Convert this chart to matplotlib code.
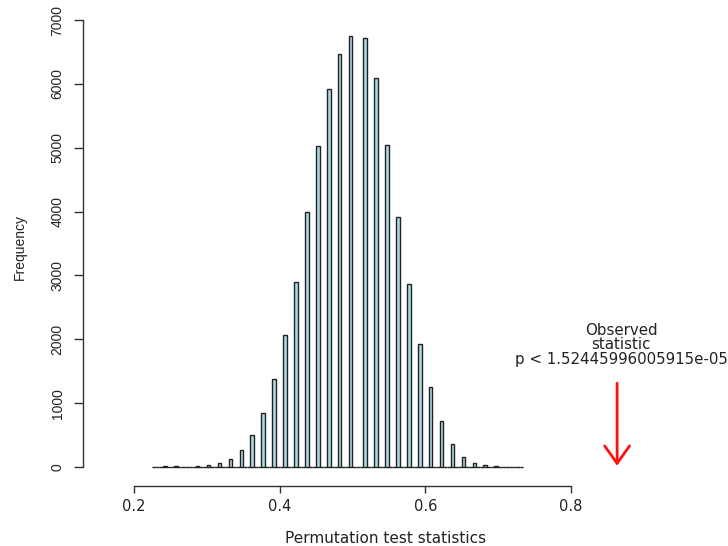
import matplotlib
matplotlib.use("Agg")
import matplotlib.pyplot as plt
import numpy as np

plt.rcParams['font.family'] = ['DejaVu Sans']

# histogram bins (width 0.005), centres of the non-empty ones and their counts
bin_lo, bin_hi, bin_w = 0.225, 0.735, 0.005
centres = [0.2425, 0.2575, 0.2875, 0.3025, 0.3175, 0.3325, 0.3475, 0.3625,
           0.3775, 0.3925, 0.4075, 0.4225, 0.4375, 0.4525, 0.4675, 0.4825,
           0.4975, 0.5175, 0.5325, 0.5475, 0.5625, 0.5775, 0.5925, 0.6075,
           0.6225, 0.6375, 0.6525, 0.6675, 0.6825, 0.6975]
counts = [12, 12, 8, 30, 55, 120, 260, 500,
          845, 1380, 2070, 2895, 4000, 5030, 5920, 6465,
          6757, 6721, 6095, 5045, 3910, 2870, 1930, 1250,
          717, 363, 160, 66, 24, 8]

observed = 0.8636
p_text = "Observed\nstatistic\np < 1.52445996005915e-05"

xticks = [0.2, 0.4, 0.6, 0.8]
yticks = [0, 1000, 2000, 3000, 4000, 5000, 6000, 7000]

narrow = ['Liberation Sans Narrow', 'Liberation Sans']

# every bin gets drawn, empty ones show up as a flat line at zero
edges = np.arange(bin_lo, bin_hi + bin_w / 2, bin_w)
mids = edges[:-1] + bin_w / 2
heights = np.zeros(len(mids))
for c, n in zip(centres, counts):
    heights[np.argmin(np.abs(mids - c))] = n

fig = plt.figure(figsize=(7.28, 5.46), dpi=100)
ax = fig.add_axes([83.3 / 728, 60.5 / 546, 641.7 / 728, 477.5 / 546])

ax.bar(mids, heights, width=bin_w, color='#add8e6', edgecolor='#222222',
       linewidth=1.0)

ax.set_xlim(0.1304, 1.0118)
ax.set_ylim(-290, 7188)

for s in ['top', 'right']:
    ax.spines[s].set_visible(False)
ax.spines['left'].set_bounds(0, 7000)
ax.spines['bottom'].set_bounds(0.2, 0.8)
for s in ['left', 'bottom']:
    ax.spines[s].set_color('#333333')
    ax.spines[s].set_linewidth(1.0)

ax.set_xticks(xticks)
ax.set_xticklabels([str(t) for t in xticks])
ax.set_yticks(yticks)
ax.set_yticklabels([str(t) for t in yticks], rotation=90, va='center',
                   family=narrow)
ax.tick_params(axis='x', length=5, width=1, color='#333333', pad=5,
               labelsize=10.5, labelcolor='#222222')
ax.tick_params(axis='y', length=6.5, width=1, color='#333333', pad=7,
               labelsize=10, labelcolor='#222222')

ax.set_xlabel("Permutation test statistics", fontsize=11, color='#222222')
ax.xaxis.set_label_coords((386 - 83.3) / 641.7, -0.095)
ax.set_ylabel("Frequency", fontsize=10, color='#222222', labelpad=17,
              family=narrow)

# arrow pointing at the observed value
ax.annotate("", xy=(observed, -25), xytext=(observed, 1355),
            arrowprops=dict(arrowstyle='->, head_length=0.45, head_width=0.32',
                            color='#ff1010', lw=2, mutation_scale=28))
ax.text(observed + 0.0055, 1570, p_text, ha='center', va='bottom',
        fontsize=10.8, color='#222222', linespacing=0.95, clip_on=False)

fig.savefig("out.png", dpi=100)
